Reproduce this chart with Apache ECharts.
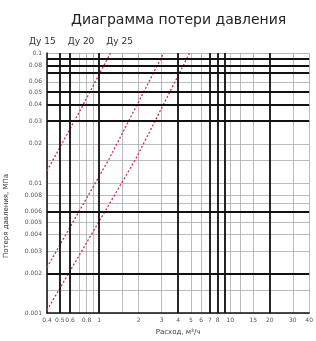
<!DOCTYPE html>
<html>
<head>
<meta charset="utf-8">
<script src="https://cdn.jsdelivr.net/npm/echarts@6/dist/echarts.min.js"></script>
<style>
html, body {margin: 0; padding: 0; background: #fff;}
#chart {width: 316px; height: 341px;}
</style>
</head>
<body>
<div id="chart"></div>
<script>
var lineNames = ['Ду 15', 'Ду 20', 'Ду 25'];
var flow1 = [0.4, 0.71, 1.22];
var loss1 = [0.0124, 0.0356, 0.1];
var flow2 = [0.4, 1.19, 3.11];
var loss2 = [0.00224, 0.0153, 0.1];
var flow3 = [0.4, 1.9, 4.9];
var loss3 = [0.00105, 0.0153, 0.1];

// деления осей
var xTicks = [0.4, 0.5, 0.6, 0.7, 0.8, 0.9, 1, 1.5, 2, 3, 4, 5, 6, 7, 8, 9, 10, 12, 15, 20, 30, 40];
var xLabels = [0.4, 0.5, 0.6, 0.8, 1, 2, 3, 4, 5, 6, 7, 8, 10, 15, 20, 30, 40];
var yTicks = [0.001, 0.0015, 0.002, 0.003, 0.004, 0.005, 0.006, 0.007, 0.008, 0.01, 0.015, 0.02, 0.03, 0.04, 0.05, 0.06, 0.07, 0.08, 0.09, 0.1];
var yLabels = [0.001, 0.002, 0.003, 0.004, 0.005, 0.006, 0.008, 0.01, 0.02, 0.03, 0.04, 0.05, 0.06, 0.08, 0.1];
// жирные линии сетки
var xBold = [0.5, 0.6, 1, 4, 7, 8, 9, 20];
var yBold = [0.002, 0.006, 0.03, 0.04, 0.05, 0.07, 0.08, 0.09];
var xRange = [0.4, 40];
var yRange = [0.001, 0.1];

var pairs = function (xs, ys) {
    return xs.map(function (x, i) { return [x, ys[i]]; });
};

// markLine через coord, чтобы значения не округлялись
var boldLines = [];
xBold.forEach(function (v) {
    boldLines.push([{coord: [v, yRange[0]]}, {coord: [v, yRange[1]]}]);
});
yBold.forEach(function (v) {
    boldLines.push([{coord: [xRange[0], v]}, {coord: [xRange[1], v]}]);
});

var redLine = {color: '#d42a4c', width: 1.3, type: [2, 2]};

var myChart = echarts.init(document.getElementById('chart'));
var options = {
    animation: false,
    textStyle: {fontFamily: 'DejaVu Sans'},
    title: {
        text: 'Диаграмма потери давления',
        left: 66,
        top: 8,
        textStyle: {fontSize: 14, fontWeight: 'normal', color: '#222', fontFamily: 'DejaVu Sans'}
    },
    legend: {
        data: lineNames,
        left: 18,
        top: 32,
        itemWidth: 0,
        itemHeight: 0,
        itemGap: 6,
        textStyle: {fontSize: 9, color: '#333'}
    },
    grid: {left: 47, right: 4, top: 53, bottom: 25},
    xAxis: {
        type: 'log',
        min: xRange[0],
        max: xRange[1],
        name: 'Расход, м³/ч',
        nameLocation: 'middle',
        nameGap: 16,
        nameTextStyle: {fontSize: 7, color: '#333'},
        axisLine: {lineStyle: {color: '#111', width: 1.5}},
        axisTick: {show: false, customValues: xTicks},
        axisLabel: {customValues: xLabels, fontSize: 6, color: '#555', margin: 4},
        splitLine: {show: true, lineStyle: {color: '#aaa', width: 0.8}},
        minorSplitLine: {show: false}
    },
    yAxis: {
        type: 'log',
        min: yRange[0],
        max: yRange[1],
        axisLine: {show: true, lineStyle: {color: '#111', width: 1.5}},
        axisTick: {show: false, customValues: yTicks},
        axisLabel: {customValues: yLabels, fontSize: 6, color: '#555', margin: 5},
        splitLine: {show: true, lineStyle: {color: '#aaa', width: 0.8}}
    },
    graphic: [{
        type: 'text',
        x: 6,
        y: 216,
        rotation: Math.PI / 2,
        style: {
            text: 'Потеря давления, МПа',
            fontSize: 7,
            fill: '#333',
            align: 'center',
            verticalAlign: 'middle',
            fontFamily: 'DejaVu Sans'
        }
    }],
    series: [
        {
            name: lineNames[0],
            type: 'line',
            data: pairs(flow1, loss1),
            showSymbol: false,
            lineStyle: redLine,
            itemStyle: {color: '#d42a4c'},
            markLine: {
                silent: true,
                symbol: 'none',
                label: {show: false},
                lineStyle: {color: '#111', width: 1.8, type: 'solid'},
                data: boldLines
            }
        },
        {
            name: lineNames[1],
            type: 'line',
            data: pairs(flow2, loss2),
            showSymbol: false,
            lineStyle: redLine,
            itemStyle: {color: '#d42a4c'}
        },
        {
            name: lineNames[2],
            type: 'line',
            data: pairs(flow3, loss3),
            showSymbol: false,
            lineStyle: redLine,
            itemStyle: {color: '#d42a4c'}
        }
    ]
};
myChart.setOption(options);
</script>
</body>
</html>
